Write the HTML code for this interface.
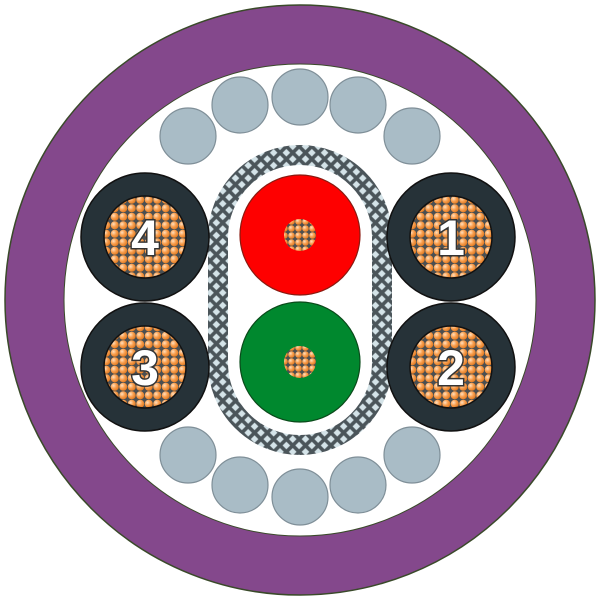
<!DOCTYPE html>
<html><head><meta charset="utf-8"><style>html,body{margin:0;padding:0;background:#fff}svg{display:block}</style></head>
<body>
<svg width="600" height="600" viewBox="0 0 600 600" xmlns="http://www.w3.org/2000/svg">
<defs>
<radialGradient id="cu" cx="0.35" cy="0.35" r="0.7"><stop offset="0" stop-color="#ffe0c0"/><stop offset="0.5" stop-color="#f9a050"/><stop offset="1" stop-color="#e07820"/></radialGradient>
<pattern id="strand" width="8.5" height="8.5" patternUnits="userSpaceOnUse"><rect width="8.5" height="8.5" fill="#4a4f52"/><circle cx="4.25" cy="4.25" r="4" fill="url(#cu)"/></pattern>
<pattern id="strand2" width="7" height="7" patternUnits="userSpaceOnUse" x="1" y="1"><rect width="7" height="7" fill="#4a4f52"/><circle cx="3.5" cy="3.5" r="3.3" fill="url(#cu)"/></pattern>
<pattern id="braid" width="9" height="9" patternUnits="userSpaceOnUse" patternTransform="rotate(45)"><rect width="9" height="9" fill="#4b555a"/><rect x="1.8" y="1.8" width="5.4" height="5.4" fill="#d4e3e8"/></pattern>
</defs>
<circle cx="300" cy="300" r="295" fill="#84488c" stroke="#3a4a2a" stroke-width="1.5"/>
<circle cx="300" cy="300" r="236" fill="#fff" stroke="#3a4a2a" stroke-width="1"/>
<g fill="#a9bcc6" stroke="#7f8f98" stroke-width="1.2">
<circle cx="188" cy="136" r="28"/><circle cx="240" cy="105" r="28"/><circle cx="300" cy="97" r="28"/><circle cx="358" cy="105" r="28"/><circle cx="412" cy="136" r="28"/>
<circle cx="188" cy="455" r="28"/><circle cx="240" cy="485" r="28"/><circle cx="300" cy="497" r="28"/><circle cx="358" cy="485" r="28"/><circle cx="412" cy="455" r="28"/>
</g>
<rect x="218" y="155" width="164" height="290" rx="82" ry="82" fill="#fff" stroke="url(#braid)" stroke-width="20"/>
<circle cx="300" cy="235" r="60" fill="#fe0000" stroke="#8a1a10" stroke-width="1.2"/>
<circle cx="300" cy="362" r="60" fill="#00882e" stroke="#0a4a1a" stroke-width="1.2"/>
<circle cx="300" cy="235" r="16" fill="url(#strand2)"/>
<circle cx="300" cy="362" r="16" fill="url(#strand2)"/>
<g stroke="#111" stroke-width="1.5">
<circle cx="145" cy="237" r="64" fill="#263238"/><circle cx="451" cy="237" r="64" fill="#263238"/>
<circle cx="145" cy="367" r="64" fill="#263238"/><circle cx="451" cy="367" r="64" fill="#263238"/>
</g>
<g stroke="#111" stroke-width="1.5" fill="url(#strand)">
<circle cx="145" cy="237" r="41"/><circle cx="451" cy="237" r="41"/>
<circle cx="145" cy="367" r="41"/><circle cx="451" cy="367" r="41"/>
</g>
<g font-family="Liberation Sans, sans-serif" font-weight="bold" font-size="50" fill="#fff" stroke="#333" stroke-width="3" paint-order="stroke" text-anchor="middle">
<text x="145" y="255">4</text><text x="451" y="255">1</text>
<text x="145" y="385">3</text><text x="451" y="385">2</text>
</g>
</svg>
</body></html>
